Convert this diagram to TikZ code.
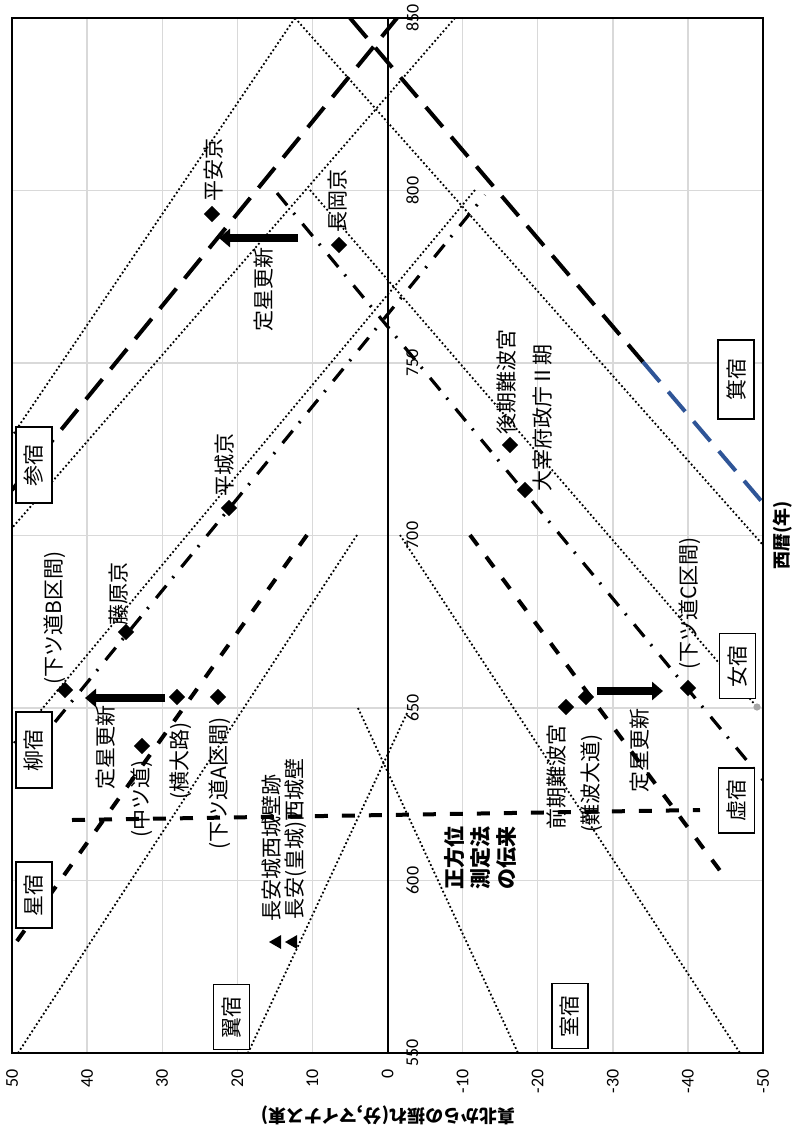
\documentclass[tikz,border=0pt]{standalone}
\usepackage{fontspec}
\setmainfont{Noto Sans CJK JP}
\newfontfamily\jp{Noto Sans CJK JP}
\newfontfamily\num{Carlito}
\usetikzlibrary{arrows.meta,shapes.geometric}
\definecolor{gridc}{RGB}{217,217,217}
\definecolor{lblue}{RGB}{47,85,151}
\definecolor{dotg}{RGB}{166,166,166}
\tikzset{
  gridl/.style={draw=gridc, line width=0.7pt},
  frame/.style={draw=black, line width=1pt},
  dotl/.style={line width=0.9pt, dash pattern=on 0.9pt off 1.2pt},
  longd/.style={line width=2pt, dash pattern=on 13pt off 6.5pt},
  medd/.style={line width=2pt, dash pattern=on 6.5pt off 7pt},
  ddot/.style={line width=1.6pt, dash pattern=on 8pt off 5pt on 1pt off 6pt},
  bigarrow/.style={line width=4pt, -{Triangle[width=9pt,length=5.5pt]}},
  mk/.style={diamond, fill=black, inner sep=0pt, minimum size=8.3pt},
  tri/.style={regular polygon, regular polygon sides=3, fill=black, inner sep=0pt, minimum size=8pt, rotate=90},
  lbl/.style={rotate=90, anchor=west, inner sep=0pt, font=\jp\fontsize{10.5}{13}\selectfont},
  sbox/.style={rotate=90, draw=black, line width=0.7pt, fill=white, inner sep=0pt, minimum height=18pt, font=\jp\fontsize{10.5}{12}\selectfont},
  tick/.style={rotate=90, inner sep=0pt, font=\num\fontsize{9}{10}\selectfont},
}
\begin{document}
\begin{tikzpicture}[x=0.5pt,y=-0.5pt]
\useasboundingbox (0,0) rectangle (800,1129);
% grid
\foreach \x in {87.1,162.2,237.3,312.4,462.6,537.7,612.8,687.9} \draw[gridl] (\x,18) -- (\x,1053);
\foreach \y in {190.5,363,535.5,708,880.5} \draw[gridl] (12,\y) -- (763,\y);
\draw[line width=1pt] (387.5,18) -- (387.5,1053);
% series
\begin{scope}
\clip (12,18) rectangle (763,1053);
\draw[dotl] (295,18) -- (763,545);
\draw[dotl] (455,18) -- (12,528);
\draw[dotl] (295,18) -- (12,436);
\draw[dotl] (310,190) -- (757,707);
\draw[dotl] (357,535) -- (18,1053);
\draw[dotl] (475,190) -- (12,745);
\draw[dotl] (400,535) -- (740,1053);
\draw[dotl] (407,713) -- (248,1053);
\draw[dotl] (358,708) -- (518,1053);
\draw[longd] (12,490) -- (397,18);
\draw[longd] (350,18) -- (643,362);
\draw[longd, draw=lblue] (643,362) -- (763,503);
\draw[medd] (307,535) -- (12,948);
\draw[medd] (470,535) -- (727,880);
\draw[medd] (72,820) -- (700,810);
\draw[ddot] (55,722) -- (485,195);
\draw[ddot] (277,193) -- (763,780);
\end{scope}
\draw[frame] (12,18) rectangle (763,1053);
\node[circle, fill=dotg, inner sep=0pt, minimum size=3.6pt] (gdot) at (757,707) {};
% tick labels
\foreach \x/\t [count=\i] in {12/50,87.1/40,162.2/30,237.3/20,312.4/10,387.5/0,462.6/-10,537.7/-20,612.8/-30,687.9/-40,763/-50}
  \node[tick, anchor=east] (dev\i) at (\x,1069) {\t};
\foreach \y/\t [count=\i] in {18/850,190.5/800,363/750,535.5/700,708/650,880.5/600,1053/550}
  \node[tick, anchor=north] (yr\i) at (406,\y) {\t};
\node[rotate=90, inner sep=0pt, font=\jp\bfseries\fontsize{9}{10}\selectfont] (xtitle) at (783,535) {西暦(年)};
\node[rotate=180, inner sep=0pt, font=\jp\bfseries\fontsize{9}{10}\selectfont] (ytitle) at (388,1115) {真北からの振れ(分,マイナス東)};
% markers
\node[mk] (m1) at (212,214) {};
\node[mk] (m2) at (339,245) {};
\node[mk] (m3) at (510,445) {};
\node[mk] (m4) at (525,490) {};
\node[mk] (m5) at (229,508) {};
\node[mk] (m6) at (126,632) {};
\node[mk] (m7) at (65,690) {};
\node[mk] (m8) at (177,697) {};
\node[mk] (m9) at (218,697) {};
\node[mk] (m10) at (142,746) {};
\node[mk] (m11) at (566,707) {};
\node[mk] (m12) at (586,697) {};
\node[mk] (m13) at (688,688) {};
\node[tri] (t1) at (277,942) {};
\node[tri] (t2) at (293,942) {};
% arrows
\coordinate (a1s) at (298,238); \coordinate (a1e) at (219,238);
\coordinate (a2s) at (165,698); \coordinate (a2e) at (85,698);
\coordinate (a3s) at (597,691); \coordinate (a3e) at (663,691);
\draw[bigarrow] (a1s) -- (a1e);
\draw[bigarrow] (a2s) -- (a2e);
\draw[bigarrow] (a3s) -- (a3e);
% labels
\node[lbl] (l1) at (214,202) {平安京};
\node[lbl] (l2) at (338,233) {長岡京};
\node[lbl] (l3) at (264,332) {定星更新};
\node[lbl] (l4) at (507,435) {後期難波宮};
\node[lbl] (l5) at (543,492) {大宰府政庁Ⅱ期};
\node[lbl] (l6) at (225,497) {平城京};
\node[lbl] (l7) at (55,685) {(下ツ道B区間)};
\node[lbl] (l8) at (119,626) {藤原京};
\node[lbl] (l9) at (106,790) {定星更新};
\node[lbl] (l10) at (142,838) {(中ツ道)};
\node[lbl] (l11) at (181,800) {(横大路)};
\node[lbl] (l12) at (220,850) {(下ツ道A区間)};
\node[lbl] (l13) at (272,922) {長安城西城壁跡};
\node[lbl] (l14) at (296,920) {長安(皇城)西城壁};
\node[lbl, align=left, font=\jp\bfseries\fontsize{10.5}{13}\selectfont] (l15) at (480,890) {正方位\\測定法\\の伝来};
\node[lbl] (l16) at (557,830) {前期難波宮};
\node[lbl] (l17) at (592,833) {(難波大道)};
\node[lbl] (l18) at (640,793) {定星更新};
\node[lbl] (l19) at (690,670) {(下ツ道C区間)};
% star boxes
\node[sbox, minimum width=38pt] (san) at (34,465) {参宿};
\node[sbox, minimum width=38pt] (ryu) at (34,750) {柳宿};
\node[sbox, minimum width=33pt] (sei) at (34,895) {星宿};
\node[sbox, minimum width=32.5pt] (yoku) at (231.5,1017) {翼宿};
\node[sbox, minimum width=32.5pt] (shitsu) at (570,1016) {室宿};
\node[sbox, minimum width=32.5pt] (jo) at (737.5,666) {女宿};
\node[sbox, minimum width=32.5pt] (kyo) at (736.5,800.5) {虚宿};
\node[sbox, minimum width=39.5pt] (ki) at (736,379.5) {箕宿};
\end{tikzpicture}
\end{document}
